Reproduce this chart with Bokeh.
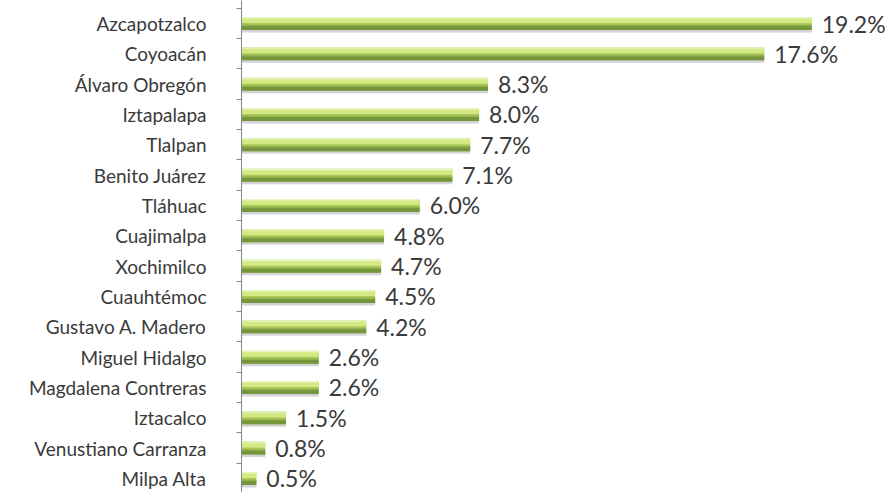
from bokeh.plotting import figure
from bokeh.models import Range1d, FixedTicker, ColumnDataSource
from bokeh.core.properties import value
from bokeh.embed import file_html
from bokeh.resources import INLINE

categories = ["Azcapotzalco", "Coyoacán", "Álvaro Obregón", "Iztapalapa", "Tlalpan",
              "Benito Juárez", "Tláhuac", "Cuajimalpa", "Xochimilco", "Cuauhtémoc",
              "Gustavo A. Madero", "Miguel Hidalgo", "Magdalena Contreras", "Iztacalco",
              "Venustiano Carranza", "Milpa Alta"]
values = [19.2, 17.6, 8.3, 8.0, 7.7, 7.1, 6.0, 4.8, 4.7, 4.5, 4.2, 2.6, 2.6, 1.5, 0.8, 0.5]
labels = [f"{v:.1f}%" for v in values]

pos = list(range(len(categories)))
src = ColumnDataSource(dict(y=pos, v=values, lab=labels))

ROW = 30.33
PX = 1 / ROW  # one pixel in row units

p = figure(width=887, height=492, output_backend="svg", toolbar_location=None,
           x_range=Range1d(0, (887 - 241) / 29.7), y_range=Range1d((492 - 23) / ROW, -23 / ROW),
           min_border_left=241, min_border_right=0, min_border_top=0, min_border_bottom=0)
p.outline_line_color = None
p.grid.visible = False
p.xaxis.visible = False
p.background_fill_color = "white"

ya = p.yaxis[0]
ya.ticker = FixedTicker(ticks=pos, minor_ticks=[k - 0.5 for k in range(len(categories) + 1)])
ya.major_label_overrides = {i: c for i, c in enumerate(categories)}
ya.major_tick_in = 0
ya.major_tick_out = 0
ya.minor_tick_in = 0
ya.minor_tick_out = 5
ya.minor_tick_line_color = "#868686"
ya.axis_line_color = "#868686"
ya.major_label_standoff = 30
ya.major_label_text_font = "Lato"
ya.major_label_text_font_size = "19px"
ya.major_label_text_color = "#3a3a3a"

# cylinder-like bars built from stacked bands
def band(offset_px, height_px, color):
    p.hbar(y=[k + offset_px * PX for k in pos], right=values, left=0,
           height=height_px * PX, fill_color=color, line_color=None)

band(7.5, 3, "#d4d4d8")     # soft shadow below
band(0, 13, "#a9c858")      # body
band(4.2, 4.6, "#74953c")   # dark lower edge
band(2.0, 1.5, "#8fb04a")
band(-3.0, 5, "#d3ea84")    # bright upper band
band(-5.75, 1.5, "#eaf5c2") # pale rim

p.text(x="v", y="y", text="lab", source=src, x_offset=10, text_baseline="middle",
       text_align="left", text_font=value("Lato"), text_font_size="23px", text_color="#3a3a3a")

open("out.html", "w").write(file_html(p, INLINE))
